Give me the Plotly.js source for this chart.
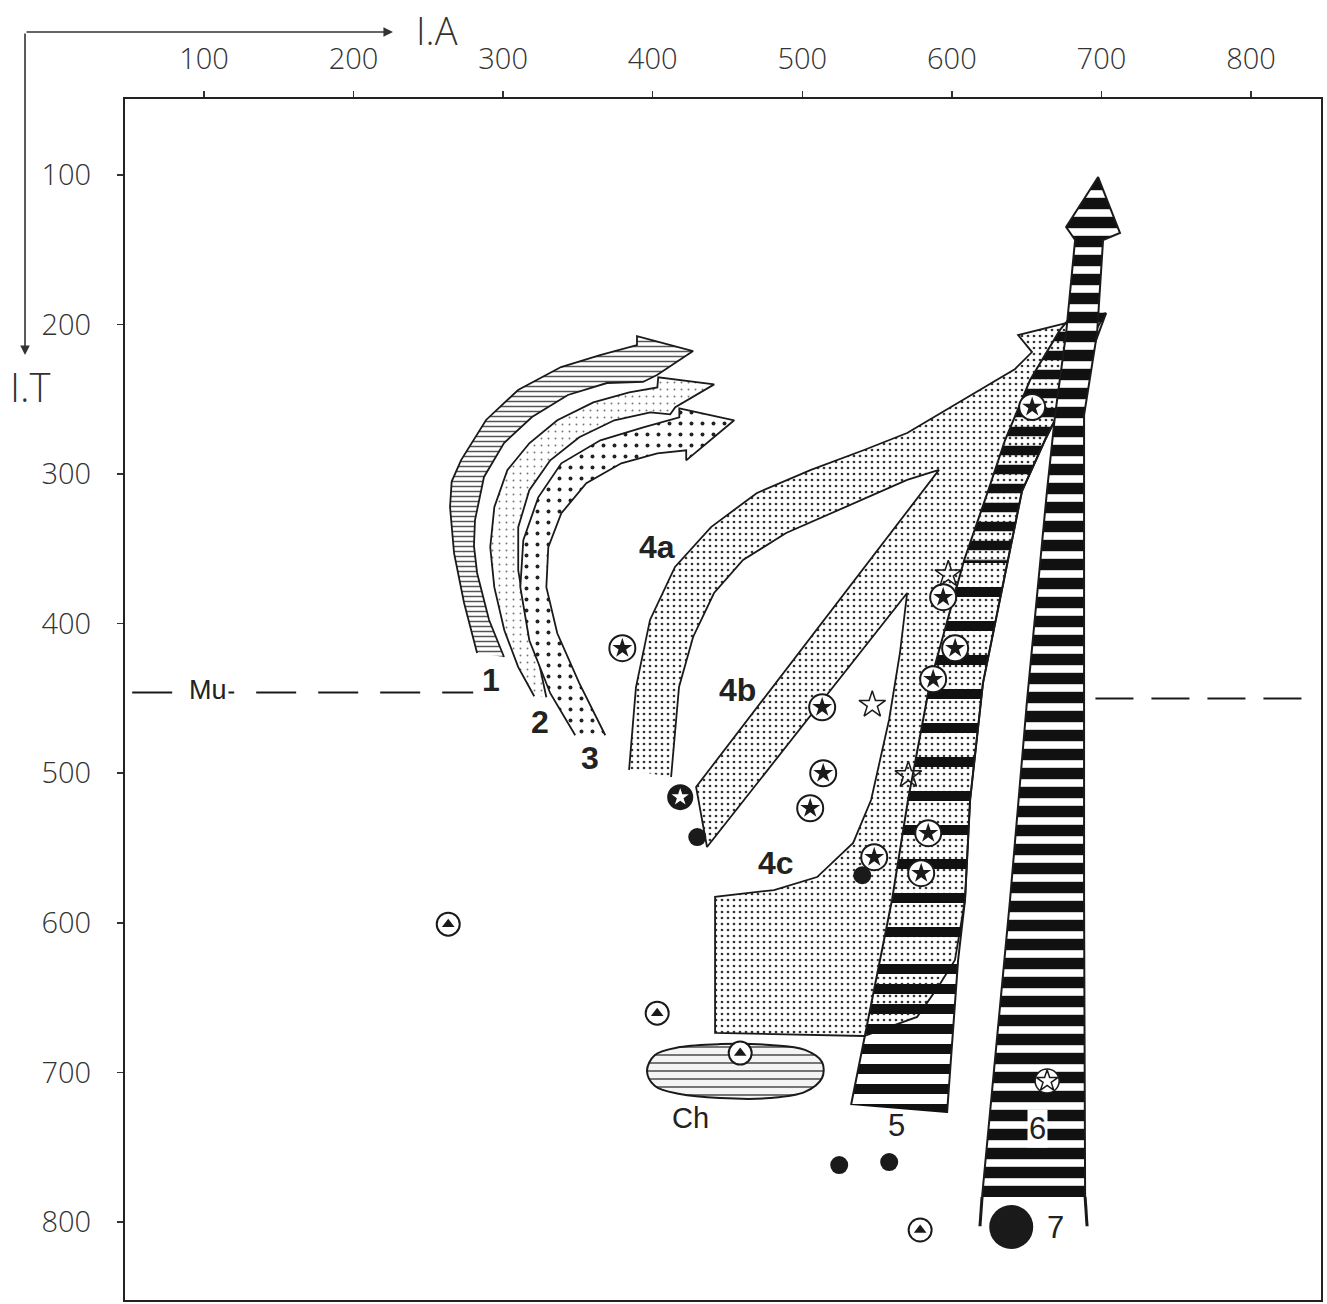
<!DOCTYPE html>
<html>
<head>
<meta charset="utf-8">
<script src="https://cdn.plot.ly/plotly-3.0.1.min.js"></script>
<style>html,body{margin:0;padding:0;background:#fff;}#chart{width:1327px;height:1304px;}</style>
</head>
<body>
<div id="chart"></div>
<script>
// ---- axis ticks ----
const xTicks = [100, 200, 300, 400, 500, 600, 700, 800];
const yTicks = [100, 200, 300, 400, 500, 600, 700, 800];

// ---- arrow 1 (fine horizontal hatching) ----
const arrow1X = [282.6,273.9,267.2,264.5,265.6,271.9,288.6,310.0,338.7,364.8,389.5,389.5,427.0,402.9,393.5,369.4,343.3,319.3,300.6,287.2,281.2,280.5,282.6,290.6,300.6];
const arrow1Y = [419.6,386.2,352.8,322.0,305.0,290.6,263.8,243.8,228.4,220.4,213.7,207.7,217.7,233.7,238.4,239.1,247.1,261.8,279.2,301.9,330.7,348.0,366.1,397.6,422.3];

// ---- arrow 2 (light speckle) ----
const arrow2X = [320.8,310.1,300.8,294.1,291.4,294.1,302.8,317.5,336.2,360.3,384.3,403.1,403.7,441.1,415.1,411.7,398.4,374.3,350.9,331.5,317.5,310.1,310.1,314.8,322.2,328.9];
const arrow2Y = [448.5,429.1,404.4,375.6,348.9,322.2,297.4,279.4,264.0,252.0,245.3,242.0,235.3,240.0,255.3,260.0,258.7,264.0,275.4,290.8,310.8,335.5,364.3,393.0,417.8,449.2];

// ---- arrow 3 (coarse dots) ----
const arrow3X = [348.2,331.5,317.5,311.5,313.5,323.5,338.9,365.0,393.7,417.8,417.8,454.5,422.4,422.4,403.1,379.0,355.6,338.9,330.2,328.9,336.2,350.9,368.3];
const arrow3Y = [474.6,446.5,411.1,375.6,344.2,315.5,292.8,277.4,268.7,262.0,256.0,264.0,290.8,284.1,286.1,292.8,306.1,326.2,348.9,375.6,406.4,439.8,474.6];

// ---- field 4 (4a, 4b, 4c, fine stipple) ----
const field4X = [384.2,388.8,398.2,414.9,439.0,469.7,505.8,541.3,570.1,603.5,642.3,653.6,644.3,703.1,692.4,672.3,662.3,646.9,632.2,620.8,612.2,608.8,602.1,590.8,576.8,552.7,541.3,441.7,441.7,481.1,509.9,534.0,546.0,558.0,565.3,570.1,436.3,429.0,591.4,570.1,529.3,489.2,460.4,441.0,427.0,417.6,412.3];
const field4Y = [497.8,442.6,397.5,362.1,335.4,312.6,297.2,283.9,272.5,252.5,229.7,218.4,207.0,192.3,210.3,257.1,277.2,311.3,384.2,439.7,517.9,584.7,624.8,642.9,662.9,671.6,675.7,673.6,582.7,578.1,569.4,546.6,517.9,464.4,419.6,379.5,549.3,509.2,297.2,303.9,322.0,339.4,357.4,379.5,408.9,442.3,502.5];

// ---- Ch ellipse ----
const chX = [396.2,401.5,418.2,445.0,478.4,501.8,513.2,513.2,501.8,478.4,445.0,418.2,401.5,396.2];
const chY = [699.1,688.4,683.1,681.1,681.7,685.0,693.1,703.8,713.1,717.2,717.2,714.5,709.1,699.1];

// ---- band 5 (striped), three parts ----
const band5TopX = [608.2,624.2,635.6,652.3,672.3,689.0,703.1,689.0,672.3,662.3,646.9,637.6];
const band5TopY = [357.6,311.3,277.2,237.1,203.6,183.6,192.3,230.4,257.1,277.2,311.3,357.6];
const band5MidX = [552.0,560.0,570.7,585.4,597.5,608.2,637.6,632.2,620.8,612.2,608.8,604.2];
const band5MidY = [624.8,584.7,517.9,439.7,396.2,357.6,357.6,384.2,439.7,517.9,584.7,624.8];
const band5BotX = [532.6,552.0,604.2,602.1,596.8];
const band5BotY = [721.8,624.8,624.8,651.6,727.2];
const band5LeftX = [532.6,552.0,560.0,570.7,585.4,597.5,608.2,624.2,635.6,652.3,672.3,689.0];
const band5LeftY = [721.8,624.8,584.7,517.9,439.7,396.2,357.6,311.3,277.2,237.1,203.6,183.6];
const band5RightX = [596.8,602.1,604.2,608.8,612.2,620.8,632.2,637.6,646.9,662.3,672.3,689.0,703.1];
const band5RightY = [727.2,651.6,624.8,584.7,517.9,439.7,384.2,357.6,311.3,277.2,257.1,230.4,192.3];

// ---- column 6 (dark, white bars) ----
const col6X = [620.2,638.9,650.3,663.6,669.0,676.4,682.4,676.4,697.8,712.4,701.1,697.1,688.4,688.4,688.4,689.1];
const col6Y = [783.3,584.7,451.0,311.3,260.5,205.7,143.5,134.8,101.4,138.8,143.5,205.7,260.5,384.2,584.7,783.3];
const col6FootLX = [620.2,618.8], col6FootLY = [783.3,802.9];
const col6FootRX = [689.1,690.4], col6FootRY = [783.3,802.9];

// ---- Mu level ----
const muLeftX = [52, 280], muLeftY = [446, 446];
const muRightX = [696, 838], muRightY = [450, 450];

// ---- point symbols ----
const circledStarX = [379.7,513.3,514.0,505.3,653.7,594.2,602.2,587.5,548.1,584.2,579.5];
const circledStarY = [416.4,455.9,500.0,523.4,255.2,382.3,416.4,437.1,556.1,540.1,566.8];
const openStarX = [546.8,570.9,597.6];
const openStarY = [454.2,501.3,367.0];
const blackDotX = [429.8,540.1,524.7,558.1];
const blackDotY = [542.7,568.2,762.0,760.0];
const bigDotX = [639.7], bigDotY = [803.4];
const darkStarX = [418.4], darkStarY = [516.0];
const whiteStarX = [663.7], whiteStarY = [705.8];
const triangleX = [263.3,403.0,458.5,578.8];
const triangleY = [600.9,660.4,687.1,805.4];

// ---- labels ----
const boldLabels = ['1','2','3','4a','4b','4c'];
const boldLabelX = [291.9,324.8,358.3,403.1,456.5,482.6];
const boldLabelY = [437.6,465.9,490.0,348.9,444.5,560.1];
const plainLabels = ['5','6','7','Ch','Mu'];
const plainLabelX = [562.8,657.1,669.1,425.1,102.8];
const plainLabelY = [735.2,737.2,803.4,730.6,444.4];
const plainLabelBg = [false,true,false,false,true];
const plainLabelSize = [31,31,31,29,27];

const OUT = '#1a1a1a';
function poly(x, y, pattern, lw, shape) {
  return {x: x, y: y, type: 'scatter', mode: 'lines', fill: 'toself',
    line: {color: OUT, width: lw === undefined ? 1.8 : lw, shape: shape || 'linear'},
    fillcolor: 'rgba(0,0,0,0)', fillpattern: pattern,
    hoverinfo: 'skip', showlegend: false};
}
function line(x, y, w, dash) {
  return {x: x, y: y, type: 'scatter', mode: 'lines',
    line: {color: OUT, width: w, dash: dash || 'solid'}, hoverinfo: 'skip', showlegend: false};
}
function pts(x, y, symbol, size, color, lineColor, lineWidth) {
  return {x: x, y: y, type: 'scatter', mode: 'markers', cliponaxis: false,
    marker: {symbol: symbol, size: size, color: color, line: {color: lineColor, width: lineWidth}},
    hoverinfo: 'skip', showlegend: false};
}

const traces = [
  poly(arrow1X, arrow1Y, {shape: '-', size: 5, solidity: 0.3, fgcolor: '#555', bgcolor: '#fff'}),
  poly(arrow2X, arrow2Y, {shape: '.', size: 7, solidity: 0.06, fgcolor: '#777', bgcolor: '#fff'}),
  poly(arrow3X, arrow3Y, {shape: '.', size: 11, solidity: 0.1, fgcolor: '#222', bgcolor: '#fff'}),
  poly(field4X, field4Y, {shape: '.', size: 6, solidity: 0.16, fgcolor: '#333', bgcolor: '#fff'}),
  poly(chX, chY, {shape: '-', size: 8, solidity: 0.2, fgcolor: '#555', bgcolor: '#f4f4f4'}, 2, 'spline'),
  poly(band5TopX, band5TopY, {shape: '-', size: 19, solidity: 0.5, fgcolor: '#111', bgcolor: 'rgba(0,0,0,0)'}, 0),
  poly(band5MidX, band5MidY, {shape: '-', size: 34, solidity: 0.3, fgcolor: '#111', bgcolor: 'rgba(0,0,0,0)'}, 0),
  poly(band5BotX, band5BotY, {shape: '-', size: 20, solidity: 0.5, fgcolor: '#111', bgcolor: 'rgba(255,255,255,0)'}, 0),
  line(band5LeftX, band5LeftY, 2),
  line(band5RightX, band5RightY, 2),
  poly(col6X, col6Y, {shape: '-', size: 19, solidity: 0.6, fgcolor: '#111', bgcolor: '#fff'}, 2),
  line(col6FootLX, col6FootLY, 3),
  line(col6FootRX, col6FootRY, 3),
  line(muLeftX, muLeftY, 2, '40px,22px'),
  line(muRightX, muRightY, 2, '38px,18px'),
  pts(circledStarX, circledStarY, 'circle', 26, '#fff', OUT, 2),
  pts(circledStarX, circledStarY, 'star', 15, OUT, OUT, 0),
  pts(openStarX, openStarY, 'star-open', 20, OUT, OUT, 1.5),
  pts(blackDotX, blackDotY, 'circle', 18, OUT, OUT, 0),
  pts(bigDotX, bigDotY, 'circle', 44, OUT, OUT, 0),
  pts(darkStarX, darkStarY, 'circle', 26, OUT, OUT, 0),
  pts(darkStarX, darkStarY, 'star', 13, '#fff', '#fff', 0),
  pts(whiteStarX, whiteStarY, 'circle', 24, '#fff', OUT, 1.5),
  pts(whiteStarX, whiteStarY, 'star-open', 16, OUT, OUT, 1.5),
  pts(triangleX, triangleY, 'circle', 23, '#fff', OUT, 2),
  pts(triangleX, triangleY, 'triangle-up', 11, OUT, OUT, 0)
];

const annotations = [];
boldLabels.forEach((t, i) => annotations.push({
  x: boldLabelX[i], y: boldLabelY[i], xref: 'x', yref: 'y', text: '<b>' + t + '</b>',
  showarrow: false, font: {family: 'Liberation Sans, Arial, sans-serif', size: 32, color: '#222'}
}));
plainLabels.forEach((t, i) => annotations.push({
  x: plainLabelX[i], y: plainLabelY[i], xref: 'x', yref: 'y', text: t,
  showarrow: false, bgcolor: plainLabelBg[i] ? '#fff' : 'rgba(0,0,0,0)', borderpad: 1,
  font: {family: 'Liberation Sans, Arial, sans-serif', size: plainLabelSize[i], color: '#222'}
}));
annotations.push({xref: 'paper', yref: 'paper', x: 0.2241, y: 1.0558, ax: -368, ay: 0,
  axref: 'pixel', ayref: 'pixel', text: '', showarrow: true, arrowhead: 2, arrowsize: 1.2, arrowwidth: 1.6, arrowcolor: '#333'});
annotations.push({xref: 'paper', yref: 'paper', x: -0.0836, y: 0.7868, ax: 0, ay: -323,
  axref: 'pixel', ayref: 'pixel', text: '', showarrow: true, arrowhead: 2, arrowsize: 1.2, arrowwidth: 1.6, arrowcolor: '#333'});
annotations.push({xref: 'paper', yref: 'paper', x: 0.2609, y: 1.0575, xanchor: 'center', yanchor: 'middle',
  text: 'I.A', showarrow: false, borderpad: 0,
  font: {family: 'Open Sans, sans-serif', size: 38, color: '#333', weight: 300}});
annotations.push({xref: 'paper', yref: 'paper', x: -0.0786, y: 0.7610, xanchor: 'center', yanchor: 'middle',
  text: 'I.T', showarrow: false,
  font: {family: 'Open Sans, sans-serif', size: 40, color: '#333', weight: 300}});

const axisCommon = {
  tickmode: 'array', ticks: 'outside', ticklen: 6, tickwidth: 1.5, tickcolor: '#333',
  showline: true, mirror: true, linecolor: '#222', linewidth: 2,
  showgrid: false, zeroline: false, fixedrange: true,
  tickfont: {family: 'Open Sans, sans-serif', size: 29, color: '#333', weight: 300}
};

const layout = {
  width: 1327, height: 1304,
  margin: {l: 125, r: 6, t: 99, b: 4},
  paper_bgcolor: '#fff', plot_bgcolor: '#fff',
  xaxis: Object.assign({}, axisCommon, {side: 'top', range: [47.2, 846.8], tickvals: xTicks,
    ticktext: xTicks.map(String), ticklabelstandoff: 10}),
  yaxis: Object.assign({}, axisCommon, {range: [852.2, 49.2], tickvals: yTicks,
    ticktext: yTicks.map(String), ticklabelstandoff: 20}),
  annotations: annotations,
  showlegend: false
};

Plotly.newPlot('chart', traces, layout, {staticPlot: true});
</script>
</body>
</html>
